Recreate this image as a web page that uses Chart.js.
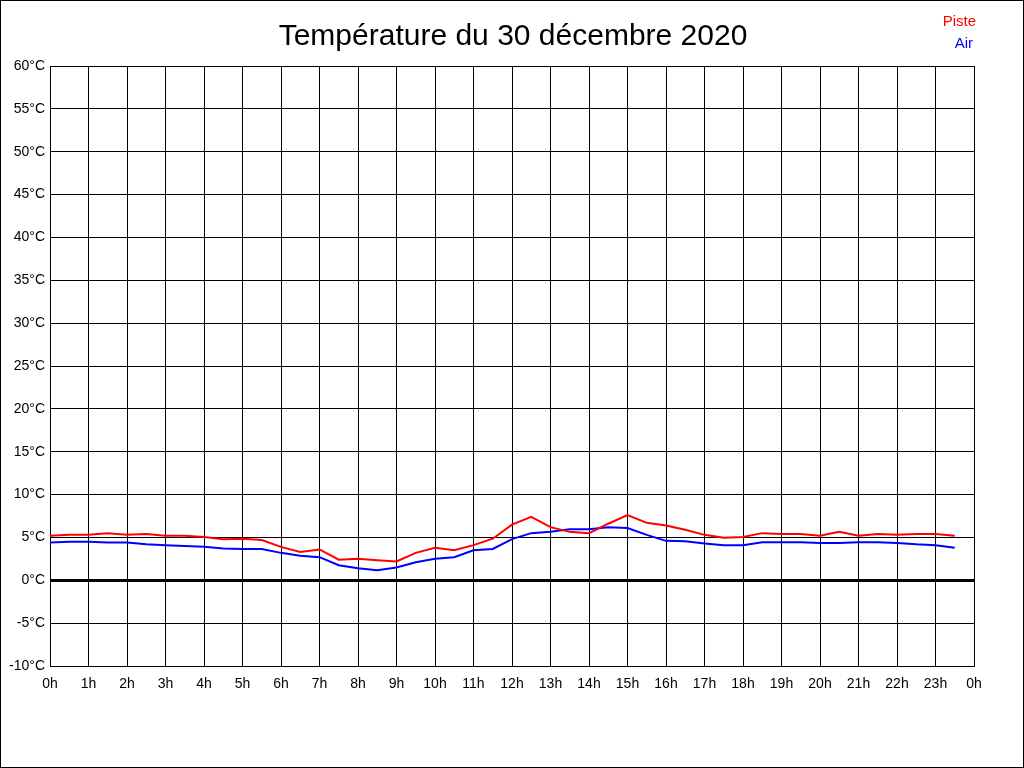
<!DOCTYPE html>
<html>
<head>
<meta charset="utf-8">
<script src="https://cdn.jsdelivr.net/npm/chart.js@4"></script>
<style>
html,body{margin:0;padding:0;background:#fff;}
canvas{display:block;}
</style>
</head>
<body>
<canvas id="c" width="1024" height="768"></canvas>
<script>
const titleText = "Température du 30 décembre 2020";
const seriesNames = ["Piste", "Air"];
const hours = [0,0.5,1,1.5,2,2.5,3,3.5,4,4.5,5,5.5,6,6.5,7,7.5,8,8.5,9,9.5,10,10.5,11,11.5,12,12.5,13,13.5,14,14.5,15,15.5,16,16.5,17,17.5,18,18.5,19,19.5,20,20.5,21,21.5,22,22.5,23,23.5];
const piste = [5.2,5.3,5.3,5.5,5.3,5.4,5.2,5.2,5.05,4.8,4.85,4.7,3.9,3.3,3.6,2.4,2.5,2.33,2.2,3.2,3.8,3.5,4.1,4.85,6.5,7.4,6.2,5.65,5.5,6.6,7.6,6.7,6.4,5.9,5.3,4.95,5.05,5.5,5.4,5.4,5.2,5.65,5.2,5.4,5.3,5.4,5.4,5.2];
const air = [4.4,4.5,4.5,4.4,4.4,4.2,4.1,4.0,3.9,3.7,3.65,3.65,3.2,2.85,2.7,1.75,1.4,1.17,1.5,2.1,2.5,2.7,3.5,3.65,4.8,5.5,5.65,5.95,5.95,6.2,6.1,5.3,4.6,4.55,4.3,4.1,4.1,4.45,4.45,4.45,4.35,4.35,4.45,4.45,4.35,4.2,4.1,3.8];
const seriesColors = ["#ff0000", "#0000ff"];

const FONT = "'Liberation Sans', Arial, sans-serif";

const decor = {
  id: 'decor',
  beforeDraw(chart) {
    const ctx = chart.ctx;
    ctx.save();
    ctx.fillStyle = '#fff';
    ctx.fillRect(0, 0, chart.width, chart.height);
    ctx.restore();
  },
  afterDraw(chart) {
    const ctx = chart.ctx;
    ctx.save();
    ctx.strokeStyle = '#000';
    ctx.lineWidth = 1;
    ctx.strokeRect(0.5, 0.5, chart.width - 1, chart.height - 1);
    ctx.fillStyle = '#000';
    ctx.font = "30px " + FONT;
    ctx.textAlign = 'center';
    ctx.textBaseline = 'middle';
    ctx.fillText(titleText, 513, 37);
    ctx.font = "15px " + FONT;
    ctx.textAlign = 'right';
    ctx.fillStyle = seriesColors[0];
    ctx.fillText(seriesNames[0], 976, 22);
    ctx.fillStyle = seriesColors[1];
    ctx.fillText(seriesNames[1], 973, 44);
    ctx.restore();
  }
};

new Chart(document.getElementById('c'), {
  type: 'line',
  data: {
    datasets: [
      { label: seriesNames[0], data: hours.map((h, i) => ({x: h, y: piste[i]})), borderColor: seriesColors[0], borderWidth: 2, pointRadius: 0, tension: 0, fill: false },
      { label: seriesNames[1], data: hours.map((h, i) => ({x: h, y: air[i]})), borderColor: seriesColors[1], borderWidth: 2, pointRadius: 0, tension: 0, fill: false }
    ]
  },
  options: {
    responsive: false,
    devicePixelRatio: 1,
    animation: false,
    layout: { padding: { top: 66, right: 50, left: 0, bottom: 0 } },
    plugins: { legend: { display: false }, title: { display: false }, tooltip: { enabled: false } },
    scales: {
      x: {
        type: 'linear', min: 0, max: 24,
        afterFit(s) { s.height = 102; },
        ticks: { stepSize: 1, autoSkip: false, maxRotation: 0, padding: 10, color: '#000', font: { family: FONT, size: 14 }, callback: v => (v % 24) + 'h' },
        grid: { color: '#000', lineWidth: 1, drawTicks: false },
        border: { color: '#000', width: 1 }
      },
      y: {
        type: 'linear', min: -10, max: 60,
        afterFit(s) { s.width = 50; },
        ticks: { stepSize: 5, padding: 5, color: '#000', font: { family: FONT, size: 14 }, callback: v => v + '°C' },
        grid: { color: '#000', lineWidth: c => (c.tick && c.tick.value === 0 ? 3 : 1), drawTicks: false },
        border: { color: '#000', width: 1 }
      }
    }
  },
  plugins: [decor]
});
</script>
</body>
</html>
